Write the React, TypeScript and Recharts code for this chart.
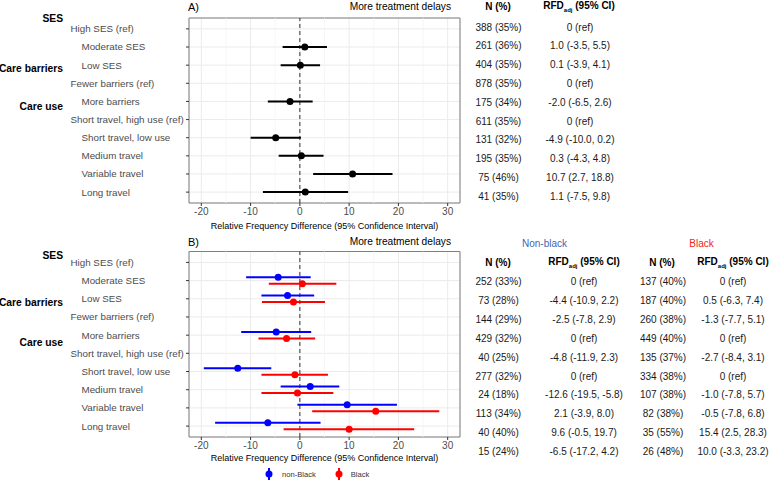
import React from 'react';
import {
  ScatterChart,
  Scatter,
  XAxis,
  YAxis,
  CartesianGrid,
  ReferenceLine,
  ReferenceArea,
  ErrorBar,
} from 'recharts';

// ---------- data ----------
const categories = [
  'High SES (ref)',
  'Moderate SES',
  'Low SES',
  'Fewer barriers (ref)',
  'More barriers',
  'Short travel, high use (ref)',
  'Short travel, low use',
  'Medium travel',
  'Variable travel',
  'Long travel',
];
const groupLabels = ['SES', 'Care barriers', 'Care use'];
const xTicks = [-20, -10, 0, 10, 20, 30];
const xMinorTicks = [-15, -5, 5, 15, 25];
const rowTicks = [0, 1, 2, 3, 4, 5, 6, 7, 8, 9];

const panelTitles = ['A)', 'B)'];
const panelSubtitle = 'More treatment delays';
const xAxisTitle = 'Relative Frequency Difference (95% Confidence Interval)';

// Panel A (overall)
const aEst = [null, 1.0, 0.1, null, -2.0, null, -4.9, 0.3, 10.7, 1.1];
const aLow = [null, -3.5, -3.9, null, -6.5, null, -10.0, -4.3, 2.7, -7.5];
const aHigh = [null, 5.5, 4.1, null, 2.6, null, 0.2, 4.8, 18.8, 9.8];
const aN = ['388 (35%)', '261 (36%)', '404 (35%)', '878 (35%)', '175 (34%)', '611 (35%)', '131 (32%)', '195 (35%)', '75 (46%)', '41 (35%)'];
const aRfd = ['0 (ref)', '1.0 (-3.5, 5.5)', '0.1 (-3.9, 4.1)', '0 (ref)', '-2.0 (-6.5, 2.6)', '0 (ref)', '-4.9 (-10.0, 0.2)', '0.3 (-4.3, 4.8)', '10.7 (2.7, 18.8)', '1.1 (-7.5, 9.8)'];

// Panel B (by race)
const nbEst = [null, -4.4, -2.5, null, -4.8, null, -12.6, 2.1, 9.6, -6.5];
const nbLow = [null, -10.9, -7.8, null, -11.9, null, -19.5, -3.9, -0.5, -17.2];
const nbHigh = [null, 2.2, 2.9, null, 2.3, null, -5.8, 8.0, 19.7, 4.2];
const bEst = [null, 0.5, -1.3, null, -2.7, null, -1.0, -0.5, 15.4, 10.0];
const bLow = [null, -6.3, -7.7, null, -8.4, null, -7.8, -7.8, 2.5, -3.3];
const bHigh = [null, 7.4, 5.1, null, 3.1, null, 5.7, 6.8, 28.3, 23.2];

const nbN = ['252 (33%)', '73 (28%)', '144 (29%)', '429 (32%)', '40 (25%)', '277 (32%)', '24 (18%)', '113 (34%)', '40 (40%)', '15 (24%)'];
const nbRfd = ['0 (ref)', '-4.4 (-10.9, 2.2)', '-2.5 (-7.8, 2.9)', '0 (ref)', '-4.8 (-11.9, 2.3)', '0 (ref)', '-12.6 (-19.5, -5.8)', '2.1 (-3.9, 8.0)', '9.6 (-0.5, 19.7)', '-6.5 (-17.2, 4.2)'];
const bN = ['137 (40%)', '187 (40%)', '260 (38%)', '449 (40%)', '135 (37%)', '334 (38%)', '107 (38%)', '82 (38%)', '35 (55%)', '26 (48%)'];
const bRfd = ['0 (ref)', '0.5 (-6.3, 7.4)', '-1.3 (-7.7, 5.1)', '0 (ref)', '-2.7 (-8.4, 3.1)', '0 (ref)', '-1.0 (-7.8, 5.7)', '-0.5 (-7.8, 6.8)', '15.4 (2.5, 28.3)', '10.0 (-3.3, 23.2)'];

const seriesNames = ['non-Black', 'Black'];
const tableGroupNames = ['Non-black', 'Black'];

// ---------- style ----------
const FONT = '"Liberation Sans", Arial, Helvetica, sans-serif';
const BLUE = '#0000FF';
const RED = '#FF0000';
const DODGE = 0.18;

type Pt = { x: number; y: number; err: [number, number] };
function buildPoints(est: (number | null)[], low: (number | null)[], high: (number | null)[], shift: number): Pt[] {
  const out: Pt[] = [];
  est.forEach((e, i) => {
    if (e === null) return;
    const lo = low[i] as number;
    const hi = high[i] as number;
    out.push({ x: e, y: i + shift, err: [e - lo, hi - e] });
  });
  return out;
}

const RowTick = (props: any) => {
  const { y, payload } = props;
  const label = categories[Math.round(payload.value)];
  const isRef = label.includes('(ref)');
  return (
    <text x={isRef ? 70.5 : 81.5} y={y} dy="0.35em" textAnchor="start" fontSize={9.8} fill="#4D4D4D" fontFamily={FONT}>
      {label}
    </text>
  );
};

type Series = { points: Pt[]; color: string; name: string };

function Panel({ top, height, marginTop, xAxisHeight, labelOffset, series }: { top: number; height: number; marginTop: number; xAxisHeight: number; labelOffset: number; series: Series[] }) {
  return (
    <div style={{ position: 'absolute', left: 0, top }}>
      <ScatterChart width={470} height={height} margin={{ top: marginTop, right: 10, bottom: 0, left: 0 }}>
        <CartesianGrid stroke="#EBEBEB" strokeWidth={1} />
        {xMinorTicks.map((v) => (
          <ReferenceLine key={v} x={v} stroke="#F4F4F4" strokeWidth={0.8} />
        ))}
        <XAxis
          type="number"
          dataKey="x"
          domain={[-22.5, 32.5]}
          ticks={xTicks}
          interval={0}
          allowDataOverflow
          height={xAxisHeight}
          axisLine={false}
          tickLine={{ stroke: '#333' }}
          tickSize={3}
          tick={{ fontSize: 10, fill: '#4D4D4D', fontFamily: FONT }}
          label={{ value: xAxisTitle, position: 'insideBottom', offset: labelOffset, fontSize: 9, fill: '#000', fontFamily: FONT }}
        />
        <YAxis
          type="number"
          dataKey="y"
          domain={[-0.6, 9.6]}
          reversed
          ticks={rowTicks}
          interval={0}
          allowDataOverflow
          width={189}
          axisLine={false}
          tickLine={{ stroke: '#333' }}
          tickSize={3}
          tick={RowTick}
        />
        <ReferenceLine x={0} stroke="#333" strokeDasharray="4 3" />
        {series.map((s) => (
          <Scatter
            key={s.name}
            name={s.name}
            data={s.points}
            fill={s.color}
            isAnimationActive={false}
            shape={(p: any) => <circle cx={p.cx} cy={p.cy} r={3.5} fill={s.color} />}
          >
            <ErrorBar dataKey="err" direction="x" width={0} stroke={s.color} strokeWidth={2} />
          </Scatter>
        ))}
        <ReferenceArea x1={-22.5} x2={32.5} y1={-0.6} y2={9.6} fill="none" stroke="#7F7F7F" strokeWidth={1} ifOverflow="visible" />
      </ScatterChart>
    </div>
  );
}

const T = ({ x, y, children, style }: { x: number; y: number; children: React.ReactNode; style?: React.CSSProperties }) => (
  <div
    style={{
      position: 'absolute',
      left: x,
      top: y,
      transform: 'translate(-50%, -50%)',
      whiteSpace: 'nowrap',
      fontFamily: FONT,
      fontSize: 10,
      color: '#1A1A1A',
      lineHeight: 1,
      ...style,
    }}
  >
    {children}
  </div>
);

const RfdHeader = () => (
  <span>
    RFD<sub style={{ fontSize: 6, verticalAlign: '-3px' }}>adj</sub> (95% CI)
  </span>
);

const LegendIcon = ({ color }: { color: string }) => (
  <svg width={10} height={14} style={{ display: 'block' }}>
    <line x1={5} y1={1} x2={5} y2={13} stroke={color} strokeWidth={2} />
    <circle cx={5} cy={7} r={3.5} fill={color} />
  </svg>
);

export default function App() {
  const seriesA: Series[] = [{ points: buildPoints(aEst, aLow, aHigh, 0), color: '#000000', name: 'All' }];
  const seriesB: Series[] = [
    { points: buildPoints(nbEst, nbLow, nbHigh, -DODGE), color: BLUE, name: seriesNames[0] },
    { points: buildPoints(bEst, bLow, bHigh, DODGE), color: RED, name: seriesNames[1] },
  ];
  const rowsA = categories.map((_, i) => 27.5 + i * 18.8);
  const rowsB = categories.map((_, i) => 281.7 + i * 18.96);
  const groupYA = [19, 69, 107];
  const groupYB = [255.7, 303.3, 343.3];

  return (
    <div style={{ position: 'absolute', left: 0, top: 0, width: 771, height: 481, background: '#fff', overflow: 'hidden' }}>
      <Panel top={0} height={232} marginTop={18} xAxisHeight={29} labelOffset={3} series={seriesA} />
      <Panel top={225} height={242} marginTop={26.5} xAxisHeight={30} labelOffset={6} series={seriesB} />

      {/* group labels */}
      {groupLabels.map((g, i) => (
        <div key={'ga' + g} style={{ position: 'absolute', right: 771 - 63, top: groupYA[i], transform: 'translateY(-50%)', fontFamily: FONT, fontSize: 10.3, fontWeight: 'bold', color: '#000', whiteSpace: 'nowrap', lineHeight: 1 }}>
          {g}
        </div>
      ))}
      {groupLabels.map((g, i) => (
        <div key={'gb' + g} style={{ position: 'absolute', right: 771 - 63, top: groupYB[i], transform: 'translateY(-50%)', fontFamily: FONT, fontSize: 10.3, fontWeight: 'bold', color: '#000', whiteSpace: 'nowrap', lineHeight: 1 }}>
          {g}
        </div>
      ))}

      {/* panel titles */}
      <div style={{ position: 'absolute', left: 188, top: 7, transform: 'translateY(-50%)', fontFamily: FONT, fontSize: 11, color: '#000', lineHeight: 1 }}>{panelTitles[0]}</div>
      <div style={{ position: 'absolute', right: 771 - 451, top: 7, transform: 'translateY(-50%)', fontFamily: FONT, fontSize: 10.2, color: '#000', lineHeight: 1, whiteSpace: 'nowrap' }}>{panelSubtitle}</div>
      <div style={{ position: 'absolute', left: 188, top: 241.7, transform: 'translateY(-50%)', fontFamily: FONT, fontSize: 11, color: '#000', lineHeight: 1 }}>{panelTitles[1]}</div>
      <div style={{ position: 'absolute', right: 771 - 451, top: 242, transform: 'translateY(-50%)', fontFamily: FONT, fontSize: 10.2, color: '#000', lineHeight: 1, whiteSpace: 'nowrap' }}>{panelSubtitle}</div>

      {/* table A */}
      <T x={498} y={7} style={{ fontWeight: 'bold', color: '#000' }}>N (%)</T>
      <T x={579} y={7} style={{ fontWeight: 'bold', color: '#000' }}><RfdHeader /></T>
      {rowsA.map((y, i) => (
        <React.Fragment key={'ra' + i}>
          <T x={498.5} y={y}>{aN[i]}</T>
          <T x={580} y={y}>{aRfd[i]}</T>
        </React.Fragment>
      ))}

      {/* table B */}
      <T x={544.5} y={244} style={{ color: '#3F67B1' }}>{tableGroupNames[0]}</T>
      <T x={701.5} y={244} style={{ color: '#F21C24' }}>{tableGroupNames[1]}</T>
      <T x={498} y={262.7} style={{ fontWeight: 'bold', color: '#000' }}>N (%)</T>
      <T x={584} y={262.7} style={{ fontWeight: 'bold', color: '#000' }}><RfdHeader /></T>
      <T x={662} y={262.7} style={{ fontWeight: 'bold', color: '#000' }}>N (%)</T>
      <T x={733} y={262.7} style={{ fontWeight: 'bold', color: '#000' }}><RfdHeader /></T>
      {rowsB.map((y, i) => (
        <React.Fragment key={'rb' + i}>
          <T x={498.5} y={y}>{nbN[i]}</T>
          <T x={584} y={y}>{nbRfd[i]}</T>
          <T x={663} y={y}>{bN[i]}</T>
          <T x={733} y={y}>{bRfd[i]}</T>
        </React.Fragment>
      ))}

      {/* legend */}
      <div style={{ position: 'absolute', left: 264, top: 474, transform: 'translateY(-50%)', display: 'flex', alignItems: 'center', fontFamily: FONT, fontSize: 7.6, color: '#333' }}>
        <LegendIcon color={BLUE} />
        <span style={{ marginLeft: 8 }}>{seriesNames[0]}</span>
        <span style={{ width: 18 }} />
        <LegendIcon color={RED} />
        <span style={{ marginLeft: 7 }}>{seriesNames[1]}</span>
      </div>
    </div>
  );
}
